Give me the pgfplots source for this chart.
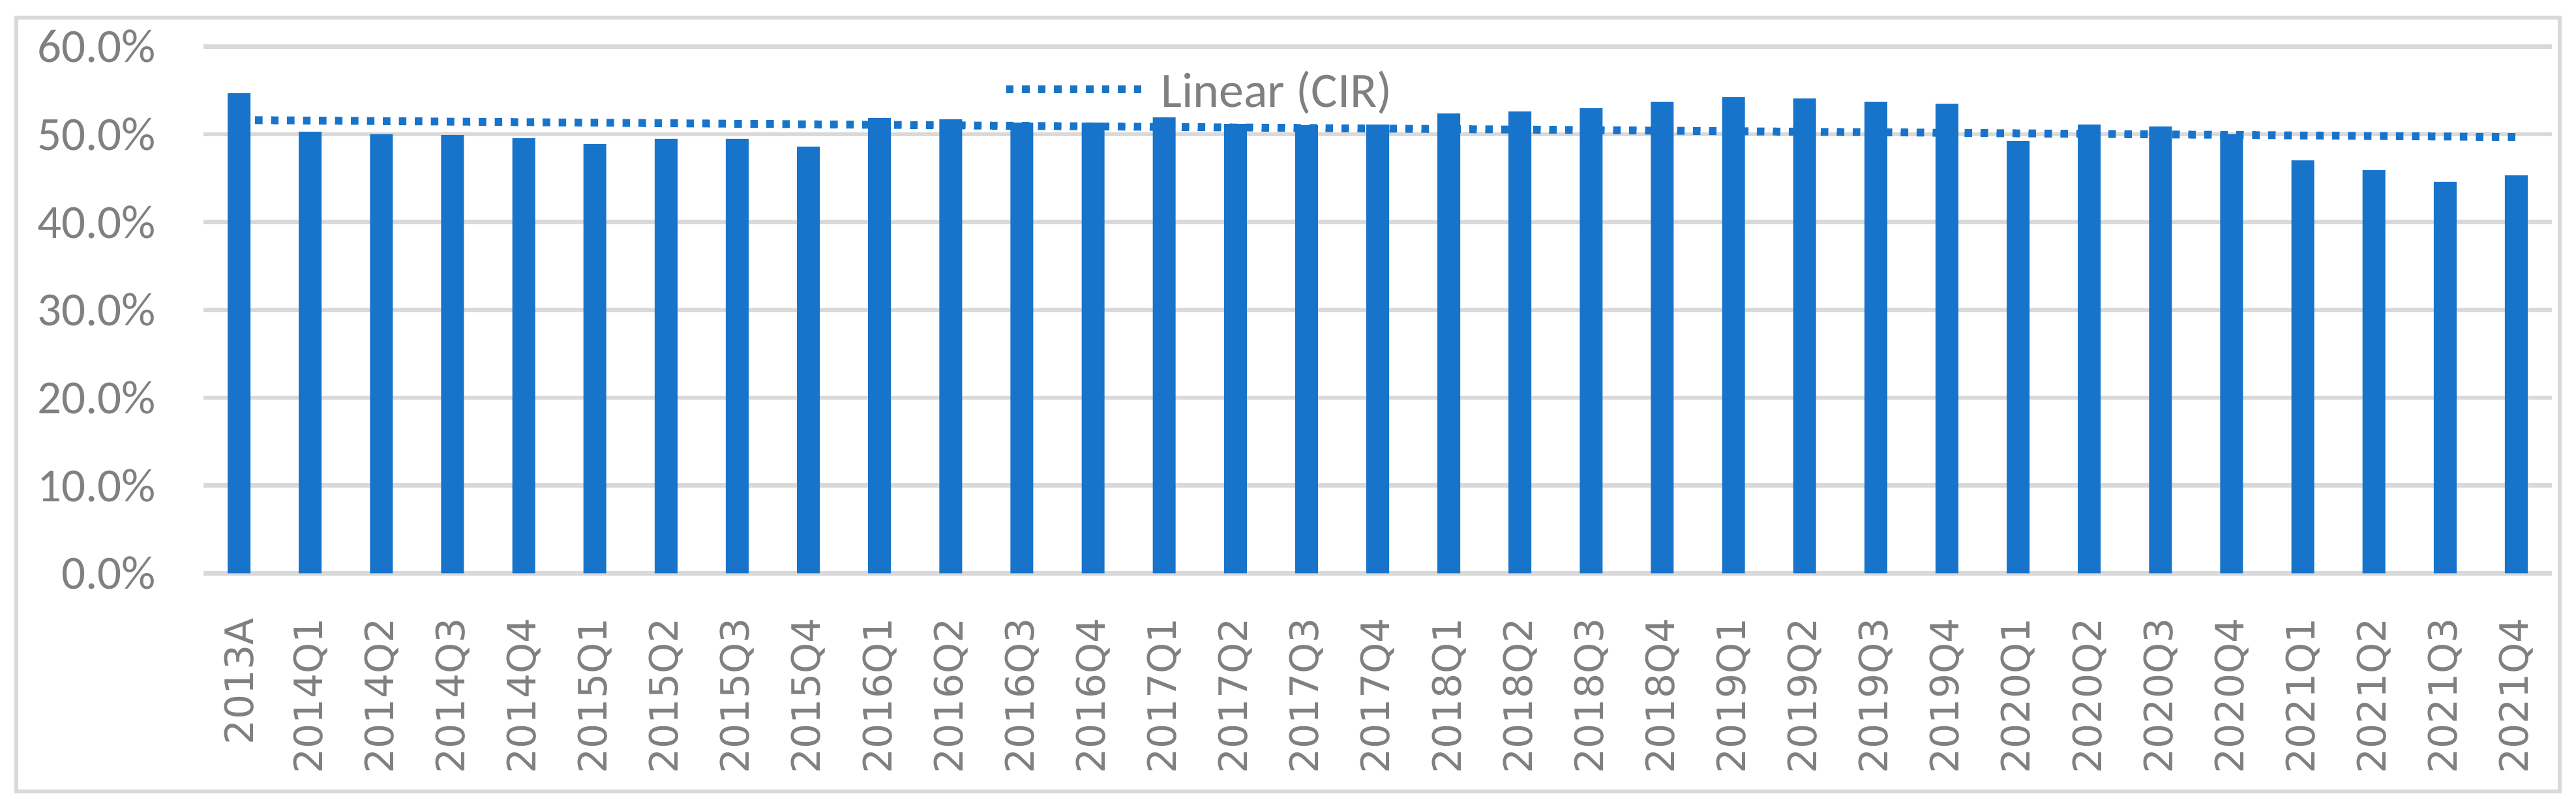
\documentclass[border=0pt]{standalone}
\usepackage{pgfplots}
\pgfplotsset{compat=1.18}
\usepackage{fontspec}
\setmainfont{Carlito}
\newfontfamily\labfont{DejaVu Sans}
\definecolor{barblue}{RGB}{24,116,202}
\definecolor{gridgray}{RGB}{217,217,217}
\definecolor{txtgray}{RGB}{128,128,128}

\begin{document}
\begin{tikzpicture}
% page size and chart frame
\path (-31.2bp,-36.47bp) rectangle (363.8bp,87.93bp);
\draw[gridgray, line width=0.6bp] (-28.7bp,-33.5bp) rectangle (361.3bp,85.2bp);
\begin{axis}[
  at={(0,0)}, anchor=south west,
  width=360.1bp, height=80.8bp, scale only axis,
  xmin=-0.5, xmax=32.5, ymin=0, ymax=60,
  axis line style={draw=none},
  tick style={draw=none},
  ymajorgrids,
  grid style={gridgray, line width=0.67bp},
  ytick={0,10,...,60},
  /pgf/number format/assume math mode=true,
  yticklabel={\pgfmathprintnumber[fixed, fixed zerofill, precision=1]{\tick}\%},
  yticklabel style={font=\fontsize{7.3bp}{8bp}\selectfont, text=txtgray, inner sep=0pt, xshift=-7.1bp},
  xtick={0,...,32},
  xticklabels={2013A,2014Q1,2014Q2,2014Q3,2014Q4,2015Q1,2015Q2,2015Q3,2015Q4,
    2016Q1,2016Q2,2016Q3,2016Q4,2017Q1,2017Q2,2017Q3,2017Q4,
    2018Q1,2018Q2,2018Q3,2018Q4,2019Q1,2019Q2,2019Q3,2019Q4,
    2020Q1,2020Q2,2020Q3,2020Q4,2021Q1,2021Q2,2021Q3,2021Q4},
  xticklabel style={font=\labfont\fontsize{6bp}{7bp}\selectfont, text=txtgray, inner sep=0pt, yshift=-6.7bp, rotate=90, anchor=east},
  legend style={draw=none, fill=none, at={(0.3395,0.9187)}, anchor=west, inner sep=0pt,
    nodes={inner sep=0pt, text depth=0pt, font=\fontsize{7.6bp}{8bp}\selectfont, text=txtgray}},
  legend image code/.code={\draw[#1] (0bp,0bp) -- (21bp,0bp); \path (23.2bp,0bp);},
]
\addplot[ybar, bar width=3.5bp, fill=barblue, draw=none, forget plot] coordinates {
  (0,54.66) (1,50.28) (2,50.00) (3,49.92) (4,49.55) (5,48.88) (6,49.48) (7,49.48)
  (8,48.59) (9,51.84) (10,51.69) (11,51.32) (12,51.32) (13,51.91) (14,51.17)
  (15,51.02) (16,51.10) (17,52.37) (18,52.60) (19,52.97) (20,53.70) (21,54.22)
  (22,54.07) (23,53.70) (24,53.48) (25,49.25) (26,51.10) (27,50.88) (28,50.00)
  (29,47.03) (30,45.92) (31,44.58) (32,45.32)
};
\addplot[barblue, line width=1.2bp, dash pattern=on 1.15bp off 1.3bp] coordinates {
  (0,51.62) (32,49.68)
};
\addlegendentry{Linear (CIR)}
\end{axis}
\end{tikzpicture}
\end{document}
